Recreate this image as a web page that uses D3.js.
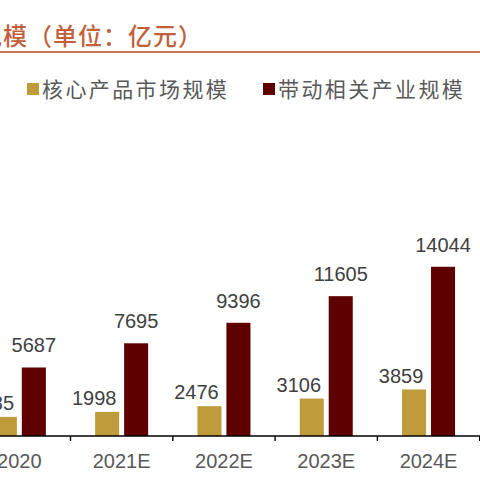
<!DOCTYPE html>
<html>
<head>
<meta charset="utf-8">
<script src="https://cdn.jsdelivr.net/npm/d3@7"></script>
<style>
  html, body { margin: 0; padding: 0; background: #fff; }
  #chart { width: 480px; height: 480px; overflow: hidden; }
</style>
</head>
<body>
<div id="chart"></div>
<script>
let years = ["2020", "2021E", "2022E", "2023E", "2024E", "2025E"];   // kategorie (2025E je za pravým okrajem)
let series = ["核心产品市场规模", "带动相关产业规模"];
let coreValues = [1585, 1998, 2476, 3106, 3859, 4790];
let relatedValues = [5687, 7695, 9396, 11605, 14044, 17000];
let titleText = "规模（单位：亿元）";

let colors = ["#c09b3b", "#5e0000"];
let width = 480;
let height = 480;
let axisY = 436;

let svg = d3.select("#chart")
  .append("svg")
  .attr("width", width)
  .attr("height", height);

// titulek a linka pod ním
svg.append("text")
  .attr("x", -22)
  .attr("y", 45)
  .attr("font-family", "Noto Sans CJK SC")
  .attr("font-weight", 500)
  .attr("font-size", 24)
  .attr("letter-spacing", 1)
  .attr("fill", "#c2603c")
  .text(titleText);

svg.append("line")
  .attr("x1", 0).attr("x2", width)
  .attr("y1", 52).attr("y2", 52)
  .attr("stroke", "#c8735a")
  .attr("stroke-width", 2.2);

// legenda
let legendX = [27, 263];
let legend = svg.selectAll("g.legend")
  .data(series)
  .join("g")
  .attr("class", "legend")
  .attr("transform", (d, i) => "translate(" + legendX[i] + ",0)");

legend.append("rect")
  .attr("x", 0).attr("y", 83)
  .attr("width", 12).attr("height", 12)
  .attr("fill", (d, i) => colors[i]);

legend.append("text")
  .attr("x", 15)
  .attr("y", 97)
  .attr("font-family", "Noto Sans CJK SC")
  .attr("font-size", 21)
  .attr("letter-spacing", 2.4)
  .attr("fill", "#595959")
  .text(d => d);

// škály
let step = 102.3;
let X = d3.scaleBand()
  .domain(years)
  .range([70.5 - step, 70.5 - step + step * years.length]);

let X1 = d3.scaleBand()
  .domain(series)
  .range([step / 2 - 26.5, step / 2 + 26.5])
  .paddingInner(0.17);

let Y = d3.scaleLinear()
  .domain([0, 18000])
  .range([axisY, axisY - 18000 / 83]);

let rows = years.map((y, i) => ({ year: y, values: [coreValues[i], relatedValues[i]] }));

let groups = svg.selectAll("g.group")
  .data(rows)
  .join("g")
  .attr("class", "group")
  .attr("transform", d => "translate(" + X(d.year) + ",0)");

groups.selectAll("rect")
  .data(d => d.values.map((v, k) => ({ key: series[k], k: k, value: v })))
  .join("rect")
  .attr("x", d => X1(d.key))
  .attr("y", d => Y(d.value))
  .attr("width", X1.bandwidth())
  .attr("height", d => axisY - Y(d.value))
  .attr("fill", d => colors[d.k]);

// popisky hodnot (žluté jsou posunuté doleva)
groups.selectAll("text.value")
  .data(d => d.values.map((v, k) => ({ key: series[k], k: k, value: v })))
  .join("text")
  .attr("class", "value")
  .attr("x", d => X1(d.key) + X1.bandwidth() / 2 + (d.k === 0 ? -13 : 0))
  .attr("y", d => Y(d.value) - (d.k === 0 ? 7 : 15))
  .attr("text-anchor", "middle")
  .attr("font-family", "Liberation Sans, Arial, sans-serif")
  .attr("font-size", 20)
  .attr("fill", "#404040")
  .text(d => d.value);

// osa x
let axis = d3.axisBottom(X).tickSize(0).tickPadding(0);
let gx = svg.append("g")
  .attr("transform", "translate(0," + axisY + ")")
  .call(axis);

gx.select(".domain").remove();
gx.append("line")
  .attr("x1", 0).attr("x2", width)
  .attr("stroke", "#000")
  .attr("stroke-width", 1.4);

gx.selectAll(".sep")
  .data(years.slice(1))
  .join("line")
  .attr("class", "sep")
  .attr("x1", d => X(d)).attr("x2", d => X(d))
  .attr("y1", 0).attr("y2", 5)
  .attr("stroke", "#000")
  .attr("stroke-width", 1.4);

gx.selectAll(".tick text")
  .attr("y", 32)
  .attr("dy", 0)
  .attr("font-family", "Liberation Sans, Arial, sans-serif")
  .attr("font-size", 20)
  .attr("fill", "#595959");
</script>
</body>
</html>
